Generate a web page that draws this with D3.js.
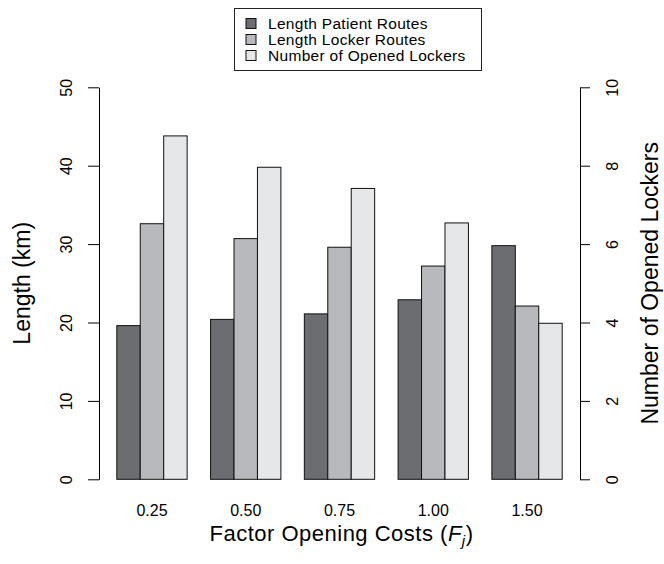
<!DOCTYPE html>
<html>
<head>
<meta charset="utf-8">
<script src="https://cdn.jsdelivr.net/npm/d3@7/dist/d3.min.js"></script>
<style>
  html, body { margin: 0; padding: 0; background: #ffffff; }
  svg { display: block; }
  text { font-family: "Liberation Sans", Arial, Helvetica, sans-serif; fill: #000; }
</style>
</head>
<body>
<svg id="chart" width="664" height="564"></svg>
<script>
// ---- data ----
const categories = ["0.25", "0.50", "0.75", "1.00", "1.50"];
const patientRoutes = [19.6, 20.4, 21.1, 22.9, 29.8];   // km (left axis)
const lockerRoutes = [32.6, 30.7, 29.6, 27.2, 22.1];    // km (left axis)
const openedLockers = [8.76, 7.96, 7.42, 6.54, 3.98];   // count (right axis)
const seriesNames = ["Length Patient Routes", "Length Locker Routes", "Number of Opened Lockers"];
const seriesColors = ["#6c6d71", "#b8b9bc", "#e6e7e9"];
const leftTicks = [0, 10, 20, 30, 40, 50];
const rightTicks = [0, 2, 4, 6, 8, 10];

// ---- layout ----
const svg = d3.select("#chart");
svg.append("rect").attr("width", 664).attr("height", 564).attr("fill", "#fff");

const plotLeft = 99, plotRight = 580, plotTop = 87.3, plotBottom = 479.3;
const FONT = "Liberation Sans, Arial, sans-serif";

// R-style barplot units: bars occupy units 1..20, usr extended 4%
const xUnits = d3.scaleLinear().domain([0.24, 20.76]).range([plotLeft, plotRight]);
const x0 = d3.scaleBand().domain(categories)
  .range([xUnits(1), xUnits(20)]).paddingInner(0.25).paddingOuter(0);
const x1 = d3.scaleBand().domain(seriesNames).range([0, x0.bandwidth()]);

const yL = d3.scaleLinear().domain([0, 50]).range([plotBottom, plotTop]);
const yR = d3.scaleLinear().domain([0, 10]).range([plotBottom, plotTop]);

const seriesData = [
  { name: seriesNames[0], values: patientRoutes, scale: yL, color: seriesColors[0] },
  { name: seriesNames[1], values: lockerRoutes, scale: yL, color: seriesColors[1] },
  { name: seriesNames[2], values: openedLockers, scale: yR, color: seriesColors[2] }
];

// ---- bars ----
const groups = svg.append("g").selectAll("g").data(categories).join("g")
  .attr("transform", d => `translate(${x0(d)},0)`);
groups.selectAll("rect")
  .data((c, i) => seriesData.map(s => ({ s, v: s.values[i] })))
  .join("rect")
  .attr("x", d => x1(d.s.name))
  .attr("width", x1.bandwidth())
  .attr("y", d => d.s.scale(d.v))
  .attr("height", d => d.s.scale(0) - d.s.scale(d.v))
  .attr("fill", d => d.s.color)
  .attr("stroke", "#111")
  .attr("stroke-width", 1);

// ---- left axis ----
const gL = svg.append("g").attr("transform", `translate(${plotLeft},0)`)
  .call(d3.axisLeft(yL).tickValues(leftTicks).tickSize(11).tickSizeOuter(0));
gL.select(".domain").attr("stroke", "#000");
gL.selectAll(".tick line").attr("stroke", "#000");
gL.selectAll(".tick text")
  .attr("x", null).attr("dy", null).attr("y", null)
  .attr("transform", "translate(-27,0) rotate(-90)")
  .attr("text-anchor", "middle")
  .attr("font-size", 16)
  .attr("font-family", FONT);

// ---- right axis ----
const gR = svg.append("g").attr("transform", `translate(${plotRight},0)`)
  .call(d3.axisRight(yR).tickValues(rightTicks).tickSize(10).tickSizeOuter(0));
gR.select(".domain").attr("stroke", "#000");
gR.selectAll(".tick line").attr("stroke", "#000");
gR.selectAll(".tick text")
  .attr("x", null).attr("dy", null).attr("y", null)
  .attr("transform", "translate(38,0) rotate(-90)")
  .attr("text-anchor", "middle")
  .attr("font-size", 16)
  .attr("font-family", FONT);

// ---- x category labels ----
const gX = svg.append("g").attr("transform", `translate(0,${plotBottom})`)
  .call(d3.axisBottom(x0).tickSize(0).tickPadding(0));
gX.select(".domain").remove();
gX.selectAll(".tick text")
  .attr("y", 37).attr("dy", null)
  .attr("font-size", 16)
  .attr("font-family", FONT);

// ---- axis titles ----
const yMid = (plotTop + plotBottom) / 2;
svg.append("text")
  .attr("transform", `translate(30,${yMid}) rotate(-90)`)
  .attr("text-anchor", "middle")
  .attr("font-size", 23)
  .text("Length (km)");

svg.append("text")
  .attr("transform", `translate(658,${yMid}) rotate(-90)`)
  .attr("text-anchor", "middle")
  .attr("font-size", 23)
  .text("Number of Opened Lockers");

const xt = svg.append("text")
  .attr("x", (plotLeft + plotRight) / 2 + 2).attr("y", 541)
  .attr("text-anchor", "middle")
  .attr("font-size", 22)
  .style("letter-spacing", "0.5px");
xt.append("tspan").text("Factor Opening Costs (");
xt.append("tspan").style("font-style", "italic").text("F");
xt.append("tspan").style("font-style", "italic").attr("font-size", 15).attr("dy", 5).text("j");
xt.append("tspan").attr("dy", -5).text(")");

// ---- legend ----
const lg = svg.append("g");
lg.append("rect").attr("x", 234.5).attr("y", 8.5).attr("width", 247).attr("height", 62)
  .attr("fill", "#fff").attr("stroke", "#222").attr("stroke-width", 1);
const items = lg.selectAll("g.item").data(seriesData).join("g").attr("class", "item")
  .attr("transform", (d, i) => `translate(0,${23.5 + i * 16})`);
items.append("rect").attr("x", 246).attr("y", -5).attr("width", 10).attr("height", 10)
  .attr("fill", d => d.color).attr("stroke", "#111").attr("stroke-width", 1);
items.append("text").attr("x", 268).attr("y", 5.5)
  .attr("font-size", 15.5)
  .style("letter-spacing", "0.3px")
  .text(d => d.name);
</script>
</body>
</html>
